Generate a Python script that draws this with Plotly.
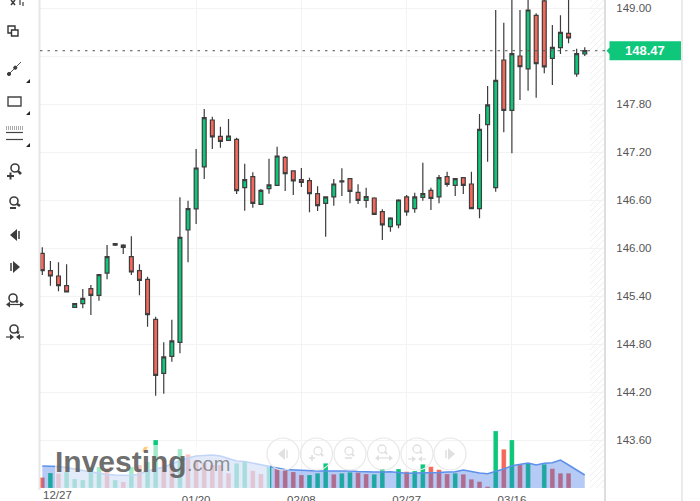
import plotly.graph_objects as go

W, H = 700, 501
PLOT_L, PLOT_R, PLOT_B = 40, 605, 488

# Daily candles
opens = [145.938, 145.720, 145.654, 145.533, 145.263, 145.308, 145.495, 145.413, 145.691, 146.058,
         146.041, 145.895, 145.720, 145.613, 145.113, 144.438, 144.650, 144.825, 146.229, 146.492,
         147.017, 147.604, 147.400, 147.350, 147.363, 146.758, 146.895, 146.550, 146.745, 146.788,
         147.138, 146.967, 146.858, 146.845, 146.683, 146.563, 146.642, 146.829, 146.870, 146.700,
         146.600, 146.629, 146.458, 146.270, 146.292, 146.642, 146.495, 146.638, 146.725, 146.642,
         146.895, 146.788, 146.883, 146.804, 146.495, 147.545, 146.758, 148.354, 147.725, 148.404,
         148.242, 148.913, 149.092, 148.375, 148.508, 148.688, 148.179, 148.429]
highs = [146.013, 145.841, 145.825, 145.800, 145.308, 145.491, 145.541, 145.670, 146.041, 146.064,
         146.050, 146.150, 145.800, 145.645, 145.145, 144.825, 145.108, 146.638, 146.595, 147.242,
         147.742, 147.645, 147.520, 147.617, 147.383, 147.058, 146.950, 146.742, 147.120, 147.270,
         147.154, 146.967, 147.004, 146.883, 146.775, 146.642, 146.867, 147.000, 146.879, 146.800,
         146.758, 146.638, 146.488, 146.388, 146.613, 146.667, 146.695, 147.070, 146.758, 146.917,
         146.958, 146.875, 146.888, 146.958, 147.679, 148.029, 148.979, 148.820, 149.179, 148.979,
         149.154, 148.938, 149.179, 148.792, 148.913, 149.167, 148.495, 148.513]
lows = [145.666, 145.533, 145.463, 145.454, 145.263, 145.250, 145.166, 145.345, 145.613, 146.029,
        145.929, 145.666, 145.413, 145.020, 144.158, 144.183, 144.583, 144.688, 145.825, 146.304,
        146.867, 147.242, 147.258, 147.342, 146.679, 146.470, 146.508, 146.550, 146.683, 146.788,
        146.717, 146.667, 146.767, 146.450, 146.467, 146.145, 146.533, 146.654, 146.563, 146.554,
        146.508, 146.425, 146.104, 146.208, 146.250, 146.408, 146.445, 146.595, 146.479, 146.563,
        146.770, 146.654, 146.679, 146.495, 146.375, 147.083, 146.708, 147.450, 147.188, 147.854,
        147.970, 147.883, 148.188, 148.042, 148.429, 148.563, 148.145, 148.404]
closes = [145.720, 145.654, 145.533, 145.454, 145.308, 145.375, 145.413, 145.670, 145.895, 146.041,
          146.013, 145.704, 145.600, 145.170, 144.413, 144.642, 144.842, 146.138, 146.495, 147.004,
          147.633, 147.392, 147.338, 147.404, 146.720, 146.858, 146.563, 146.725, 146.792, 147.154,
          146.933, 146.842, 146.825, 146.683, 146.533, 146.642, 146.804, 146.842, 146.713, 146.600,
          146.645, 146.425, 146.292, 146.379, 146.604, 146.454, 146.642, 146.683, 146.625, 146.883,
          146.800, 146.870, 146.788, 146.495, 147.488, 147.792, 148.100, 147.725, 148.433, 148.270,
          148.979, 148.308, 148.267, 148.513, 148.700, 148.629, 148.433, 148.47]

# Traded volume and its moving average
volume = [10.5, 15, 14.5, 16, 9, 8, 21, 21, 20, 8, 6, 21, 23, 26, 48, 28, 23, 39, 33.7, 28,
          25, 23, 23, 14.7, 24.7, 26.7, 17.3, 14, 22.3, 19.3, 18, 16, 13, 13, 14.7, 24.7, 13.7, 14.7, 15.7, 15.3,
          14, 13.7, 19, 0, 19, 16.3, 17, 23.7, 21.3, 18.3, 14, 14.7, 13.7, 8.7, 6.3, 1.3, 57, 38.7, 48, 23,
          24.7, 0, 23.7, 19.3, 14.7, 14.7, 0, 0]
volume_up = [0, 1, 0, 1, 1, 1, 1, 1, 0, 1, 0, 1, 0, 1, 1, 0, 0, 1, 0, 0,
             0, 0, 0, 0, 1, 1, 0, 0, 1, 0, 0, 0, 0, 1, 1, 1, 0, 1, 1, 0,
             0, 1, 1, 1, 1, 0, 1, 1, 0, 0, 0, 1, 0, 0, 0, 0, 1, 0, 1, 0,
             1, 1, 1, 0, 0, 0, 1, 1]
volume_avg = [22, 22, 21.5, 20.5, 19, 17, 16, 15, 13.5, 13, 12.5, 12.5, 14, 17, 19, 21, 24, 27.5, 30, 32,
              32.5, 33, 32, 29.5, 27, 26.5, 24.7, 23, 21.5, 20, 18.5, 18, 17.5, 17, 17, 17, 17, 17.3, 17, 16.5,
              16, 16, 16, 16.3, 15.5, 14.7, 15, 15, 15.3, 15.5, 16, 16.3, 18, 16.3, 15, 14.3, 16.5, 19, 22.3, 24,
              25, 23, 24.7, 25.3, 28, 23, 18, 13]

price_ticks = [143.6, 144.2, 144.8, 145.4, 146.0, 146.6, 147.2, 147.8, 148.4, 149.0]
price_labels = ["143.60", "144.20", "144.80", "145.40", "146.00", "146.60", "147.20", "147.80", "", "149.00"]
date_ticks = [19, 32, 45, 58]
date_labels = ["01/20", "02/08", "02/27", "03/16"]
first_date = "12/27"
last_price = 148.47

GREEN, RED = "#0ec77a", "#f5685a"
INK = "#3d3d3d"
TEXT = "#555555"
GRID = "#f3f3f3"
EDGE = "#e4e4e4"
index = list(range(len(opens)))


def X(px):
    return px / W


def Y(py):
    return 1 - py / H


shapes = []


def seg(x0, y0, x1, y1, color=INK, width=1.5, dash=None, layer="above"):
    line = dict(color=color, width=width)
    if dash:
        line["dash"] = dash
    shapes.append(dict(type="line", xref="paper", yref="paper", x0=X(x0), y0=Y(y0), x1=X(x1), y1=Y(y1),
                       line=line, layer=layer))


def ring(cx, cy, r, color=INK, width=1.5, fill="rgba(0,0,0,0)"):
    shapes.append(dict(type="circle", xref="paper", yref="paper", x0=X(cx - r), x1=X(cx + r),
                       y0=Y(cy + r), y1=Y(cy - r), line=dict(color=color, width=width), fillcolor=fill,
                       layer="above"))


def poly(points, fill=INK, line=None, width=0):
    d = "M " + " L ".join(f"{X(a):.5f},{Y(b):.5f}" for a, b in points) + " Z"
    shapes.append(dict(type="path", xref="paper", yref="paper", path=d, fillcolor=fill,
                       line=dict(color=line or fill, width=width), layer="above"))


def box(x0, y0, x1, y1, color=INK, width=1.5, fill="rgba(0,0,0,0)"):
    shapes.append(dict(type="rect", xref="paper", yref="paper", x0=X(x0), x1=X(x1), y0=Y(y1), y1=Y(y0),
                       line=dict(color=color, width=width), fillcolor=fill, layer="above"))


def magnifier(cx, cy, r, hx, hy, color=INK, width=1.6):
    ring(cx, cy, r, color, width)
    seg(cx + r * 0.7, cy + r * 0.7, hx, hy, color, width + 1)


def arrows_out(cx, cy, color=INK):
    seg(cx - 7, cy, cx + 7, cy, color, 1.2)
    poly([(cx - 9, cy), (cx - 5, cy - 3), (cx - 5, cy + 3)], color)
    poly([(cx + 9, cy), (cx + 5, cy - 3), (cx + 5, cy + 3)], color)


def arrows_in(cx, cy, color=INK):
    seg(cx - 9, cy, cx - 4, cy, color, 1.2)
    seg(cx + 4, cy, cx + 9, cy, color, 1.2)
    poly([(cx - 1, cy), (cx - 5, cy - 3), (cx - 5, cy + 3)], color)
    poly([(cx + 1, cy), (cx + 5, cy - 3), (cx + 5, cy + 3)], color)


def step_left(cx, cy, color=INK):
    poly([(cx - 5, cy), (cx + 2, cy - 6), (cx + 2, cy + 6)], color)
    seg(cx + 4, cy - 4, cx + 4, cy + 4, color, 1.5)


def step_right(cx, cy, color=INK):
    poly([(cx + 5, cy), (cx - 2, cy - 6), (cx - 2, cy + 6)], color)
    seg(cx - 4, cy - 4, cx - 4, cy + 4, color, 1.5)


def corner_mark(x, y):
    poly([(x + 3, y - 3), (x + 3, y + 1), (x - 1, y + 1)], "#222222")


# Striped zone for bars still to come
stripes = []
for k in range(-100, 100):
    x_low = 590 + k * 6
    # each stripe runs up and to the right, clipped to the zone
    x0, y0 = x_low, 488.0
    x1, y1 = x_low + 488.0, 0.0
    if x1 < 590 or x0 > 605:
        continue
    if x0 < 590:
        y0 = 488.0 - (590 - x0)
        x0 = 590
    if x1 > 605:
        y1 = y1 + (x1 - 605)
        x1 = 605
    stripes.append(f"M {X(x0):.5f},{Y(y0):.5f} L {X(x1):.5f},{Y(y1):.5f}")
shapes.append(dict(type="path", xref="paper", yref="paper", path=" ".join(stripes),
                   line=dict(color="#efefef", width=1), layer="below"))

# Frame lines
seg(39.5, 0, 39.5, 490, "#e6e6e6", 2)
seg(605, 0, 605, 501, "#dedede", 2)
seg(682, 0, 682, 501, EDGE, 1.5)

# Last price marker
shapes.append(dict(type="line", xref="paper", yref="y", x0=X(40), x1=X(605), y0=last_price, y1=last_price,
                   line=dict(color="#555555", width=1, dash="2.5px,5px"), layer="above"))
tag_half = 9.5 / 80
tag_path = (f"M {X(606.5):.5f},{last_price} L {X(609.5):.5f},{last_price + 0.04} "
            f"L {X(609.5):.5f},{last_price + tag_half} L {X(681):.5f},{last_price + tag_half} "
            f"L {X(681):.5f},{last_price - tag_half} L {X(609.5):.5f},{last_price - tag_half} "
            f"L {X(609.5):.5f},{last_price - 0.04} Z")
shapes.append(dict(type="path", xref="paper", yref="y", path=tag_path, fillcolor=GREEN,
                   line=dict(color=GREEN, width=0), layer="above"))

# White veil behind the wordmark
shapes.append(dict(type="rect", xref="paper", yref="paper", x0=X(55), x1=X(270), y0=Y(488), y1=Y(445),
                   fillcolor="rgba(255,255,255,0.62)", line=dict(width=0), layer="above"))
poly([(142, 451.5), (144, 447), (148, 446.5), (146, 451.5)], "rgba(250,190,90,0.75)")

# Drawing toolbar
seg(11, 0, 15, 5, INK, 1.5)
seg(15, 0, 11, 5, INK, 1.5)
seg(20, 0, 20, 5, INK, 1.2)
seg(23, 2, 23, 6, INK, 1.2)
box(8, 26, 15, 33, "#333333", 1.4)
box(11.5, 30, 18, 36, "#333333", 1.4, "#ffffff")
seg(9, 74, 21, 62, "#555555", 1)
ring(9, 74, 1.6, INK, 1, INK)
ring(15.3, 67.7, 1.6, INK, 1, INK)
corner_mark(27, 82)
box(8, 97, 21, 106, "#444444", 1.4)
corner_mark(27, 114)
seg(6, 127, 23, 127, "#555555", 1, "1px,1px")
seg(6, 129, 23, 129, "#555555", 1, "1px,1px")
seg(6, 132.5, 23, 132.5, "#444444", 1.2)
seg(6, 139.5, 23, 139.5, "#444444", 1.2)
corner_mark(27, 146)
magnifier(15, 168, 4, 21, 174)
seg(7, 176, 14, 176, INK, 2)
seg(10.5, 172.5, 10.5, 179.5, INK, 2)
magnifier(14, 201, 4, 20, 206)
seg(10, 208, 16, 208, INK, 2)
step_left(15, 235)
step_right(15, 267)
magnifier(13, 298, 4, 18, 302)
arrows_out(15, 304.5)
magnifier(14, 329, 4, 19, 333)
arrows_in(15, 337)

# Navigation buttons over the volume pane
BTN = "#e8e8e8"
GLYPH = "#e0e0e0"
for cx in (283, 316.5, 350, 383.5, 417, 450):
    ring(cx, 454, 16, BTN, 1.2)
step_left(283, 454, GLYPH)
magnifier(318, 451, 4, 323, 456, GLYPH, 1.3)
seg(309, 458, 315, 458, GLYPH, 1.6)
seg(312, 455, 312, 461, GLYPH, 1.6)
magnifier(349, 451, 4, 354, 456, GLYPH, 1.3)
seg(345, 458, 352, 458, GLYPH, 1.6)
magnifier(382, 449, 4, 387, 454, GLYPH, 1.3)
arrows_out(384, 458, GLYPH)
magnifier(417, 449, 4, 422, 453, GLYPH, 1.3)
arrows_in(417, 459, GLYPH)
step_right(450, 454, GLYPH)

fig = go.Figure()

fig.add_trace(go.Bar(
    x=index, y=volume, width=0.58, yaxis="y2",
    marker=dict(color=[GREEN if up else RED for up in volume_up], line=dict(color="rgba(255,255,255,0.4)", width=0.5)),
    hoverinfo="skip", showlegend=False,
))
fig.add_trace(go.Scatter(
    x=index, y=volume_avg, yaxis="y2", mode="lines", fill="tozeroy",
    line=dict(color="#5c90ea", width=1.5), fillcolor="rgba(60,115,225,0.38)",
    hoverinfo="skip", showlegend=False,
))
fig.add_trace(go.Candlestick(
    x=index, open=opens, high=highs, low=lows, close=closes,
    increasing=dict(fillcolor=GREEN, line=dict(color=INK, width=1.2)),
    decreasing=dict(fillcolor=RED, line=dict(color=INK, width=1.2)),
    whiskerwidth=0, showlegend=False,
))

axis_font = dict(family="Liberation Sans, Arial, sans-serif", size=11.5, color=TEXT)
annotations = [
    dict(text=first_date, xref="paper", yref="paper", x=X(57.5), y=Y(495), xanchor="center", yanchor="middle",
         showarrow=False, font=axis_font),
    dict(text="<b>148.47</b>", xref="paper", yref="y", x=X(645), y=last_price, xanchor="center", yanchor="middle",
         showarrow=False, font=dict(family="Liberation Sans, Arial, sans-serif", size=13, color="#ffffff")),
    dict(text="<b>Investing</b>", xref="paper", yref="paper", x=X(53), y=Y(461), xanchor="left", yanchor="middle",
         showarrow=False, font=dict(family="Liberation Sans, Arial, sans-serif", size=30, color="rgba(85,85,85,0.85)")),
    dict(text=".com", xref="paper", yref="paper", x=X(185), y=Y(464), xanchor="left", yanchor="middle",
         showarrow=False, font=dict(family="Liberation Sans, Arial, sans-serif", size=20, color="rgba(120,120,120,0.8)")),
]

fig.update_layout(
    width=W, height=H,
    margin=dict(l=0, r=0, t=0, b=0, autoexpand=False),
    paper_bgcolor="#ffffff", plot_bgcolor="#ffffff",
    boxgap=0.32,
    shapes=shapes, annotations=annotations,
    showlegend=False,
    xaxis=dict(
        domain=[X(PLOT_L), X(PLOT_R)], range=[-0.284, 69.5], rangeslider=dict(visible=False), automargin=False,
        tickmode="array", tickvals=date_ticks, ticktext=date_labels, tickfont=axis_font,
        showgrid=True, gridcolor=GRID, gridwidth=1, zeroline=False, showline=False,
        ticks="outside", ticklen=1, tickcolor="rgba(0,0,0,0)",
    ),
    yaxis=dict(
        domain=[Y(PLOT_B), 1], range=[143.004, 149.104], side="right", automargin=False,
        tickmode="array", tickvals=price_ticks, ticktext=price_labels, tickfont=axis_font,
        showgrid=True, gridcolor=GRID, gridwidth=1, zeroline=False, showline=False,
        ticks="outside", ticklen=8, tickcolor="rgba(0,0,0,0)",
    ),
    yaxis2=dict(domain=[Y(PLOT_B), 1], range=[0, 488], overlaying="y", visible=False, fixedrange=True),
)

fig.write_html("out.html", config=dict(displayModeBar=False))
